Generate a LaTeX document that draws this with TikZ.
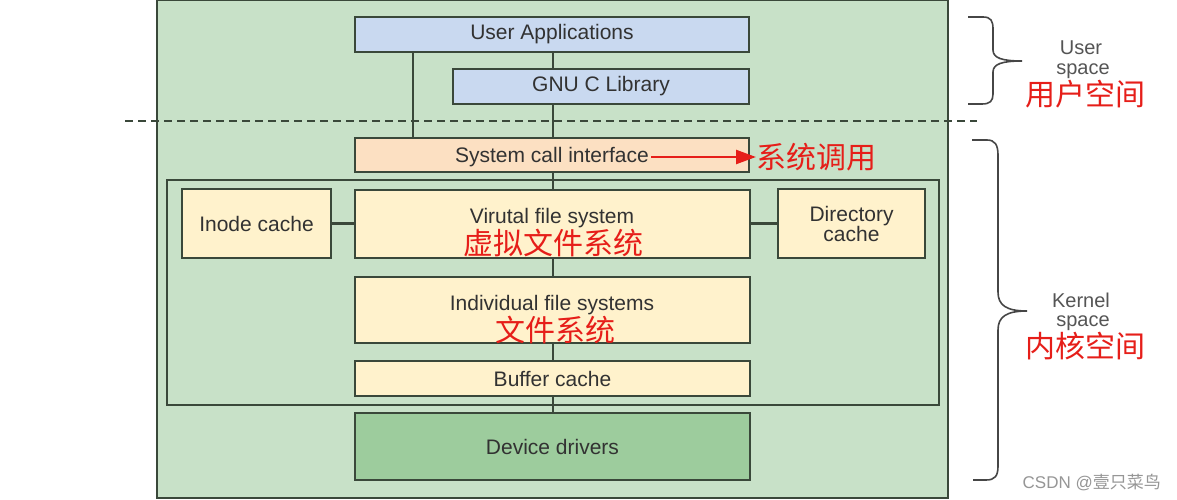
\documentclass[tikz,border=0pt]{standalone}
\usepackage{fontspec}
\setmainfont{Liberation Sans}
\newfontfamily\cjk{Noto Sans CJK SC}
\usetikzlibrary{arrows.meta}
\definecolor{panelfill}{RGB}{200,225,200}
\definecolor{edgecol}{RGB}{58,72,58}
\definecolor{bluefill}{RGB}{201,217,240}
\definecolor{peachfill}{RGB}{252,224,194}
\definecolor{yellowfill}{RGB}{255,242,204}
\definecolor{greenfill}{RGB}{157,204,157}
\definecolor{txtcol}{RGB}{50,50,50}
\definecolor{redtxt}{RGB}{230,30,25}
\definecolor{graytxt}{RGB}{85,85,85}
\definecolor{bracecol}{RGB}{70,70,70}
\definecolor{wmcol}{RGB}{150,150,150}
\tikzset{
  boxstyle/.style={draw=edgecol, line width=2.2pt, rectangle, inner sep=0pt, text=txtcol, font=\fontsize{21}{24}\selectfont},
  conn/.style={draw=edgecol, line width=2.2pt},
  lbl/.style={inner sep=0pt, text=txtcol, font=\fontsize{21}{24}\selectfont},
  redlbl/.style={inner sep=0pt, text=redtxt, font=\cjk\fontsize{30}{32}\selectfont, text height=25pt, text depth=2pt},
  sidelbl/.style={inner sep=0pt, text=graytxt, font=\fontsize{20}{22}\selectfont},
  bracestyle/.style={draw=bracecol, line width=1.6pt},
}
\begin{document}
\begin{tikzpicture}[x=1pt,y=-1pt]
\useasboundingbox (0,0) rectangle (1177,500);
\fill[white] (0,0) rectangle (1177,500);
% panel
\node[draw=edgecol, fill=panelfill, line width=2.2pt, minimum width=791pt, minimum height=498pt, inner sep=0pt] (panel) at (552.5,249) {};
% inner kernel box
\node[draw=edgecol, line width=2pt, minimum width=772pt, minimum height=225pt, inner sep=0pt] (inner) at (553,292.5) {};
% boxes
\node[boxstyle, fill=bluefill, minimum width=394pt, minimum height=35pt] (ua) at (552,34.5) {User Applications};
\node[boxstyle, fill=bluefill, minimum width=296pt, minimum height=35pt] (gnu) at (601,86.5) {GNU C Library};
\node[boxstyle, fill=peachfill, minimum width=394pt, minimum height=34pt] (sci) at (552,155) {};
\node[boxstyle, fill=yellowfill, minimum width=149pt, minimum height=69pt] (inode) at (256.5,223.5) {Inode cache};
\node[boxstyle, fill=yellowfill, minimum width=395pt, minimum height=68pt] (vfs) at (552.5,224) {};
\node[boxstyle, fill=yellowfill, minimum width=147pt, minimum height=69pt, align=center] (dir) at (851.5,223.5) {Directory\\[-4pt]cache};
\node[boxstyle, fill=yellowfill, minimum width=395pt, minimum height=66pt] (ifs) at (552.5,310) {};
\node[boxstyle, fill=yellowfill, minimum width=395pt, minimum height=35pt] (buf) at (552.5,378.5) {Buffer cache};
\node[boxstyle, fill=greenfill, minimum width=395pt, minimum height=67pt] (dd) at (552.5,446.5) {Device drivers};
% labels inside
\node[lbl] (scitxt) at (552,157) {System call interface};
\node[lbl] (vfstxt) at (552,218) {Virutal file system};
\node[redlbl] (vfscn) at (553,243) {虚拟文件系统};
\node[lbl] (ifstxt) at (552,305) {Individual file systems};
\node[redlbl] (ifscn) at (555,329.5) {文件系统};
% connectors
\coordinate (xl) at (413,0);
\coordinate (xm) at (553,0);
\draw[conn] (ua.south -| xl) -- (sci.north -| xl);
\draw[conn] (ua.south -| xm) -- (gnu.north -| xm);
\draw[conn] (gnu.south -| xm) -- (sci.north -| xm);
\draw[conn] (sci.south -| xm) -- (vfs.north -| xm);
\draw[conn] (inode.east) -- (vfs.west |- inode.east);
\draw[conn] (vfs.east |- dir.west) -- (dir.west);
\draw[conn] (vfs.south -| xm) -- (ifs.north -| xm);
\draw[conn] (ifs.south -| xm) -- (buf.north -| xm);
\draw[conn] (buf.south -| xm) -- (dd.north -| xm);
% dashed separator
\coordinate (dashL) at (125,121);
\coordinate (dashR) at (977,121);
\draw[edgecol, line width=1.8pt, dash pattern=on 8pt off 5pt] (dashL) -- (dashR);
% red arrow
\node[redlbl, anchor=west] (scicn) at (756,157) {系统调用};
\draw[redtxt, line width=2.4pt, -{Triangle[length=20pt,width=14pt]}] (scitxt.east) ++(2,0) -- (scicn.west);
% braces
\draw[bracestyle] (968,17) -- (983,17) .. controls (991,17) and (993,21) .. (993,29) -- (993,50) .. controls (993,58) and (1002,61) .. (1022,61) .. controls (1002,61) and (993,64) .. (993,72) -- (993,94) .. controls (993,101) and (990,104) .. (982,104) -- (968,104);
\draw[bracestyle] (972,140) -- (987,140) .. controls (995,140) and (998,145) .. (998,155) -- (998,292) .. controls (998,305) and (1006,311) .. (1027,311) .. controls (1006,311) and (998,317) .. (998,330) -- (998,466) .. controls (998,476) and (995,480) .. (986,480) -- (973,480);
% side labels
\node[sidelbl] (us1) at (1081,48) {User};
\node[sidelbl] (us2) at (1083,71) {space};
\node[redlbl] (uscn) at (1085,94) {用户空间};
\node[sidelbl] (ks1) at (1081,300) {Kernel};
\node[sidelbl] (ks2) at (1083,323) {space};
\node[redlbl] (kscn) at (1085,346) {内核空间};
% watermark
\node[inner sep=0pt, text=wmcol, font=\fontsize{17}{19}\selectfont, anchor=east] (wm) at (1161,482) {CSDN @{\cjk 壹只菜鸟}};
\end{tikzpicture}
\end{document}
